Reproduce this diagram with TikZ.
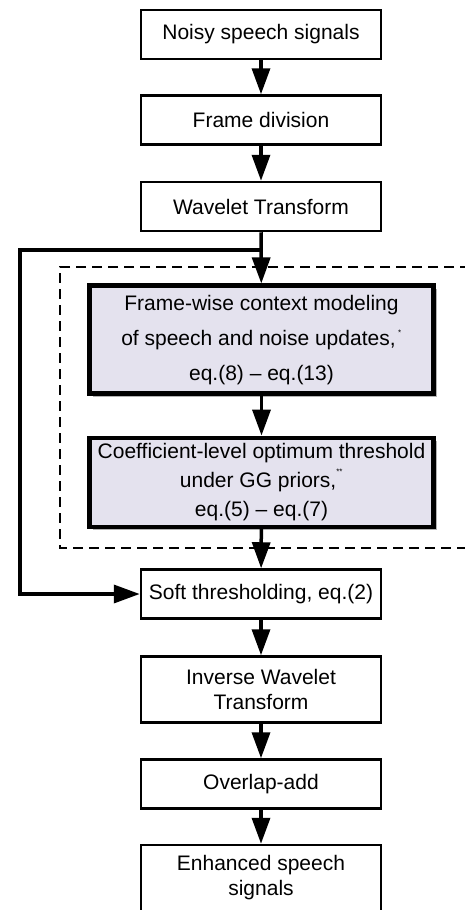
\documentclass[tikz,border=0pt]{standalone}
\usepackage{fontspec}
\setmainfont{Liberation Sans}
\usetikzlibrary{arrows.meta,shadows}
\definecolor{boxfill}{RGB}{228,226,238}
\begin{document}
\begin{tikzpicture}[x=1pt,y=-1pt,
 box/.style={draw, line width=2.5pt, minimum width=240pt, minimum height=49pt, align=center, inner sep=0pt, font=\fontsize{21}{25}\selectfont, fill=white},
 keybox/.style={box, line width=4.5pt, minimum width=344pt, fill=boxfill, drop shadow={shadow xshift=3pt, shadow yshift=-3pt, fill=black!50, opacity=0.6}},
 arr/.style={line width=3.5pt, -{Triangle[length=26pt,width=18pt]}},
 dashbox/.style={line width=1.2pt, dash pattern=on 10pt off 6pt},
]
\clip (0,0) rectangle (465,910);
\fill[white] (0,0) rectangle (465,910);
\draw[dashbox] (470,267) -- (60,267) -- (60,548) -- (470,548);

\node[box] (noisy) at (261,34.5) {Noisy speech signals};
\node[box] (frame) at (261,120) {Frame division};
\node[box] (wt) at (261,206.5) {Wavelet Transform};
\node[keybox, minimum height=108pt, font=\fontsize{21}{35}\selectfont] (ctx) at (261.5,339.7)
  {Frame-wise context modeling\\of speech and noise updates,\textsuperscript{\,\raisebox{2pt}{\footnotesize *}}\\eq.(8) -- eq.(13)};
\node[keybox, minimum height=89pt, font=\fontsize{21}{29}\selectfont] (coef) at (261.5,482.3)
  {Coefficient-level optimum threshold\\under GG priors,\textsuperscript{\raisebox{6pt}{\footnotesize **}}\\eq.(5) -- eq.(7)};
\node[box] (soft) at (261,594) {Soft thresholding, eq.(2)};
\node[box, minimum height=66pt] (iwt) at (261,689.5) {Inverse Wavelet\\Transform};
\node[box] (ola) at (261,784) {Overlap-add};
\node[box, minimum height=66pt] (enh) at (261,878) {Enhanced speech\\signals};

\coordinate (split) at (261,250);
\coordinate (lt) at (20,250);
\coordinate (lb) at (20,594);

\draw[arr] (noisy) -- (frame);
\draw[arr] (frame) -- (wt);
\draw[arr] (wt) -- (ctx);
\draw[line width=3.5pt, line join=miter] (split) -- (lt) -- (lb) -- ++(100,0);
\draw[arr] (lb) -- (soft.west);
\draw[arr] (ctx) -- (coef);
\draw[arr] (coef) -- (soft);
\draw[arr] (soft) -- (iwt);
\draw[arr] (iwt) -- (ola);
\draw[arr] (ola) -- (enh);
\end{tikzpicture}
\end{document}
